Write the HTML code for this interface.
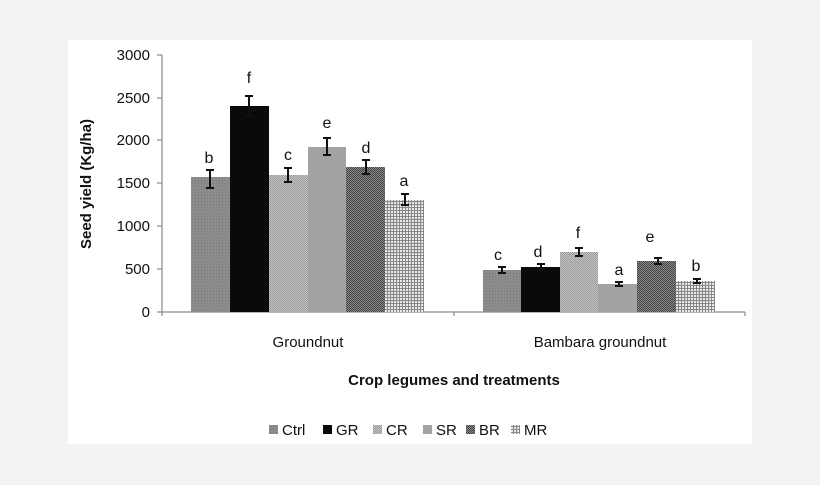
<!DOCTYPE html>
<html><head><meta charset="utf-8"><style>
html,body{margin:0;padding:0;background:#f3f3f3;}
svg{display:block;font-family:"Liberation Sans",sans-serif;}
</style></head><body>
<svg width="820" height="485" viewBox="0 0 820 485" xmlns="http://www.w3.org/2000/svg">
<defs>
<pattern id="pCtrl" width="3" height="3" patternUnits="userSpaceOnUse"><rect width="3" height="3" fill="#8c8c8c"/><rect width="1" height="1" fill="#7a7a7a"/></pattern>
<pattern id="pCR" width="2" height="2" patternUnits="userSpaceOnUse"><rect width="2" height="2" fill="#c4c4c4"/><rect width="1" height="1" fill="#9a9a9a"/><rect x="1" y="1" width="1" height="1" fill="#9a9a9a"/></pattern>
<pattern id="pBR" width="2" height="2" patternUnits="userSpaceOnUse"><rect width="2" height="2" fill="#888"/><rect width="1" height="1" fill="#444"/><rect x="1" y="1" width="1" height="1" fill="#444"/></pattern>
<pattern id="pMR" width="3" height="3" patternUnits="userSpaceOnUse"><rect width="3" height="3" fill="#e8e8e8"/><rect width="3" height="1" fill="#888"/><rect width="1" height="3" fill="#888"/></pattern>
</defs>
<rect x="0" y="0" width="820" height="485" fill="#f3f3f3"/>
<rect x="68" y="40" width="684" height="404" fill="#fff"/>
<!-- axes -->
<g stroke="#8a8a8a" stroke-width="1.2" fill="none">
<line x1="162" y1="55" x2="162" y2="316"/>
<line x1="157" y1="312" x2="745" y2="312"/>
<line x1="745" y1="312" x2="745" y2="316"/>
<line x1="454" y1="312" x2="454" y2="316"/>
<line x1="157" y1="55" x2="162" y2="55"/>
<line x1="157" y1="98" x2="162" y2="98"/>
<line x1="157" y1="140" x2="162" y2="140"/>
<line x1="157" y1="183" x2="162" y2="183"/>
<line x1="157" y1="226" x2="162" y2="226"/>
<line x1="157" y1="269" x2="162" y2="269"/>
</g>
<g font-size="15" fill="#111" text-anchor="end">
<text x="150" y="60">3000</text><text x="150" y="103">2500</text><text x="150" y="145">2000</text>
<text x="150" y="188">1500</text><text x="150" y="231">1000</text><text x="150" y="274">500</text><text x="150" y="317">0</text>
</g>
<text transform="translate(91,184) rotate(-90)" text-anchor="middle" font-size="15" font-weight="bold" fill="#111">Seed yield (Kg/ha)</text>
<!-- bars groundnut -->
<rect x="191" y="177" width="39" height="135" fill="url(#pCtrl)"/>
<rect x="230" y="106" width="39" height="206" fill="#0a0a0a"/>
<rect x="269" y="175" width="39" height="137" fill="url(#pCR)"/>
<rect x="308" y="147" width="38" height="165" fill="#a3a3a3"/>
<rect x="346" y="167" width="39" height="145" fill="url(#pBR)"/>
<rect x="385" y="200" width="39" height="112" fill="url(#pMR)"/>
<!-- bars bambara -->
<rect x="483" y="270" width="38" height="42" fill="url(#pCtrl)"/>
<rect x="521" y="267" width="39" height="45" fill="#0a0a0a"/>
<rect x="560" y="252" width="38" height="60" fill="url(#pCR)"/>
<rect x="598" y="284" width="39" height="28" fill="#a3a3a3"/>
<rect x="637" y="261" width="39" height="51" fill="url(#pBR)"/>
<rect x="676" y="281" width="39" height="31" fill="url(#pMR)"/>
<!-- error bars -->
<g stroke="#111" stroke-width="2" fill="none">
<path d="M210 170V188M206 170H214M206 188H214"/>
<path d="M249 96V116M245 96H253M245 116H253"/>
<path d="M288 168V182M284 168H292M284 182H292"/>
<path d="M327 138V155M323 138H331M323 155H331"/>
<path d="M366 160V174M362 160H370M362 174H370"/>
<path d="M405 194V205M401 194H409M401 205H409"/>
<path d="M502 267V273M498 267H506M498 273H506"/>
<path d="M541 264V269M537 264H545M537 269H545"/>
<path d="M579 248V256M575 248H583M575 256H583"/>
<path d="M619 282V286M615 282H623M615 286H623"/>
<path d="M658 258V264M654 258H662M654 264H662"/>
<path d="M697 279V283M693 279H701M693 283H701"/>
</g>
<g font-size="16" fill="#111" text-anchor="middle">
<text x="209" y="163">b</text><text x="249" y="83">f</text><text x="288" y="160">c</text>
<text x="327" y="128">e</text><text x="366" y="153">d</text><text x="404" y="186">a</text>
<text x="498" y="260">c</text><text x="538" y="257">d</text><text x="578" y="238">f</text>
<text x="619" y="275">a</text><text x="650" y="242">e</text><text x="696" y="271">b</text>
</g>
<g font-size="15" fill="#111" text-anchor="middle">
<text x="308" y="347">Groundnut</text>
<text x="600" y="347">Bambara groundnut</text>
</g>
<text x="454" y="385" text-anchor="middle" font-size="15" font-weight="bold" fill="#111">Crop legumes and treatments</text>
<!-- legend -->
<g font-size="15" fill="#111">
<rect x="269" y="425" width="9" height="9" fill="url(#pCtrl)"/><text x="282" y="435">Ctrl</text>
<rect x="323" y="425" width="9" height="9" fill="#0a0a0a"/><text x="336" y="435">GR</text>
<rect x="373" y="425" width="9" height="9" fill="url(#pCR)"/><text x="386" y="435">CR</text>
<rect x="423" y="425" width="9" height="9" fill="#a3a3a3"/><text x="436" y="435">SR</text>
<rect x="466" y="425" width="9" height="9" fill="url(#pBR)"/><text x="479" y="435">BR</text>
<rect x="511" y="425" width="9" height="9" fill="url(#pMR)"/><text x="524" y="435">MR</text>
</g>
</svg>
</body></html>
